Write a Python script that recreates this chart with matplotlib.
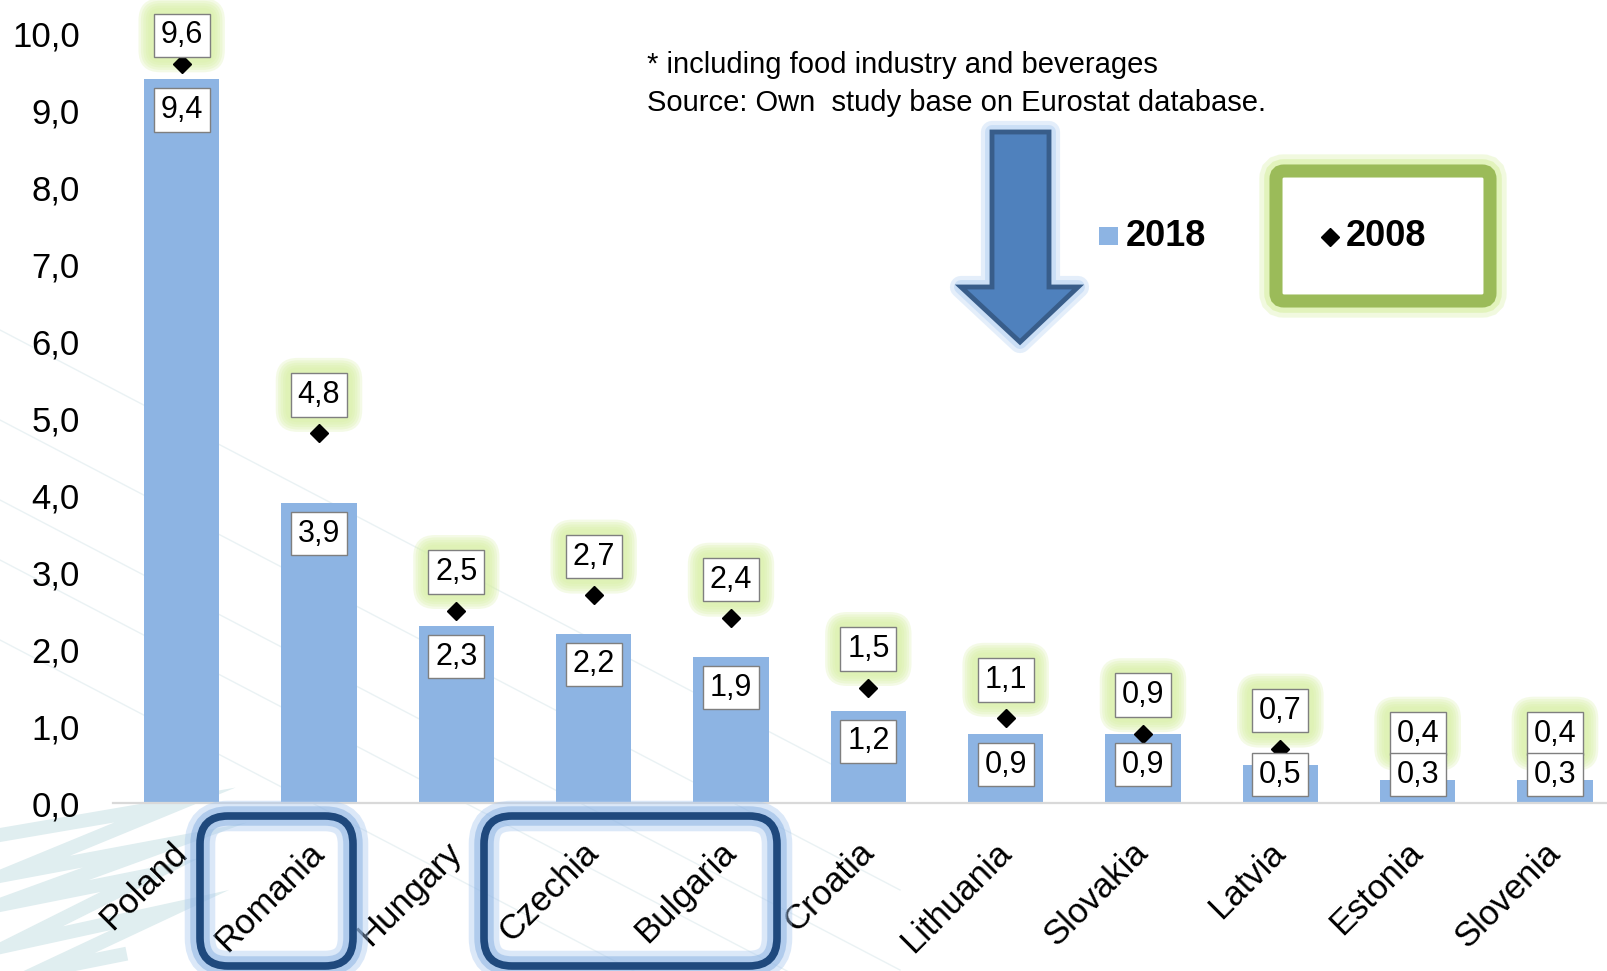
import numpy as np
import matplotlib
matplotlib.use("Agg")
import matplotlib.pyplot as plt
import matplotlib.transforms as mtransforms
from matplotlib.patches import FancyBboxPatch, Polygon, Rectangle
from matplotlib.lines import Line2D

plt.rcParams['font.family'] = ['Liberation Sans', 'DejaVu Sans']

# dane
kraje = ['Poland', 'Romania', 'Hungary', 'Czechia', 'Bulgaria', 'Croatia',
         'Lithuania', 'Slovakia', 'Latvia', 'Estonia', 'Slovenia']
wart_2018 = [9.4, 3.9, 2.3, 2.2, 1.9, 1.2, 0.9, 0.9, 0.5, 0.3, 0.3]
wart_2008 = [9.6, 4.8, 2.5, 2.7, 2.4, 1.5, 1.1, 0.9, 0.7, 0.4, 0.4]
y_ticks = [0, 1, 2, 3, 4, 5, 6, 7, 8, 9, 10]
nota = ['* including food industry and beverages',
        'Source: Own  study base on Eurostat database.']

W, H = 1608, 971
fig = plt.figure(figsize=(W / 100, H / 100), dpi=100)
# wspolrzedne w pikselach liczone od gory
PX = mtransforms.Affine2D().scale(1 / W, -1 / H).translate(0, 1) + fig.transFigure

# tlo - delikatne linie i zygzak
for y0 in [330, 420, 500, 560, 640]:
    fig.add_artist(Line2D([0, 900], [y0, y0 + 470], transform=PX,
                          color='#eaf2f4', lw=1, zorder=0))
zyg_x = [0, 175, 5, 165, 0, 150, 10, 170, 40, 120]
zyg_y = [835, 805, 875, 845, 905, 875, 945, 910, 971, 955]
fig.add_artist(Line2D(zyg_x, zyg_y, transform=PX, color='#e0eef0', lw=10,
                      solid_joinstyle='miter', zorder=0))

ax = fig.add_axes([113 / W, 168 / H, 1 - 113 / W, 770 / H])
ax.patch.set_alpha(0)
x = np.arange(len(kraje))

ax.bar(x, wart_2018, width=0.55, color='#8db4e3', zorder=2)
ax.plot(x, wart_2008, linestyle='none', marker='D', markersize=9,
        color='black', zorder=4)

fmt = lambda v: f"{v:.1f}".replace('.', ',')

for i, (a, b) in enumerate(zip(wart_2018, wart_2008)):
    # etykiety 2008 z zielona poswiata
    yb = min(b + 0.5, 9.97)
    for pad in [0.72, 0.64, 0.56, 0.48, 0.4]:
        ax.text(i, yb, fmt(b), fontsize=22, ha='center', va='center', color='none',
                bbox=dict(boxstyle=f'round,pad={pad}', fc='#d8f0a6', ec='none', alpha=0.28),
                zorder=3, clip_on=False)
    ax.text(i, yb, fmt(b), fontsize=22, ha='center', va='center',
            bbox=dict(boxstyle='square,pad=0.22', fc='white', ec='#7f7f7f', lw=1),
            zorder=5, clip_on=False)
    # etykiety 2018
    ya = max(a - 0.40, 0.37)
    ax.text(i, ya, fmt(a), fontsize=22, ha='center', va='center',
            bbox=dict(boxstyle='square,pad=0.22', fc='white', ec='#7f7f7f', lw=1),
            zorder=6)

ax.set_xlim(-0.5, 10.386)
ax.set_ylim(0, 10)
ax.set_yticks(y_ticks)
ax.set_yticklabels([fmt(t) for t in y_ticks])
ax.set_xticks(x)
ax.set_xticklabels(kraje, rotation=45, ha='right', va='center', rotation_mode='anchor')
ax.tick_params(axis='y', length=0, pad=23.8, labelsize=25)
ax.tick_params(axis='x', length=0, pad=32, labelsize=25)
for s in ['left', 'right', 'top']:
    ax.spines[s].set_visible(False)
ax.spines['bottom'].set_color('#d9d9d9')
ax.spines['bottom'].set_linewidth(1.6)

# przypis
fig.text(647 / W, 1 - 65 / H, nota[0], fontsize=21, va='center')
fig.text(647 / W, 1 - 103 / H, nota[1], fontsize=21, va='center')

# strzalka
strz = [(992, 132), (1049, 132), (1049, 287), (1078, 287), (1020, 342),
        (961, 287), (992, 287)]
for lw, al in [(16, 0.35), (10, 0.5)]:
    fig.add_artist(Polygon(strz, closed=True, transform=PX, fc='none', ec='#b3d1f3',
                           lw=lw, joinstyle='round', alpha=al, zorder=6))
fig.add_artist(Polygon(strz, closed=True, transform=PX, fc='#4f81bd', ec='#385d8a',
                       lw=3.5, joinstyle='miter', zorder=7))

# legenda
fig.add_artist(Rectangle((1099, 227), 19, 18, transform=PX, fc='#8db4e3', ec='none'))
fig.text(1126 / W, 1 - 236 / H, '2018', fontsize=26, fontweight='bold', va='center')
for lw, al in [(24, 0.35), (17, 0.6)]:
    fig.add_artist(FancyBboxPatch((1276, 171), 214, 130, boxstyle='round,pad=0,rounding_size=8',
                                  transform=PX, fc='none', ec='#d8f0a6', lw=lw, alpha=al, zorder=5))
fig.add_artist(FancyBboxPatch((1276, 171), 214, 130, boxstyle='round,pad=0,rounding_size=8',
                              transform=PX, fc='white', ec='#9bbb59', lw=9.4, zorder=6))
fig.add_artist(Line2D([1330], [237], transform=PX, marker='D', markersize=9,
                      color='black', linestyle='none', zorder=7))
fig.text(1346 / W, 1 - 236 / H, '2008', fontsize=26, fontweight='bold', va='center', zorder=7)

# zaokraglone ramki wokol krajow
for x0, x1 in [(200, 353), (484, 777)]:
    for lw, col, al in [(22, '#a7c7ef', 0.4), (14, '#8db4e3', 0.55)]:
        fig.add_artist(FancyBboxPatch((x0, 816), x1 - x0, 150,
                                      boxstyle='round,pad=0,rounding_size=28',
                                      transform=PX, fc='none', ec=col, lw=lw,
                                      alpha=al, zorder=6))
    fig.add_artist(FancyBboxPatch((x0, 816), x1 - x0, 150,
                                  boxstyle='round,pad=0,rounding_size=28',
                                  transform=PX, fc='none', ec='#1f497d', lw=5.5, zorder=7))

fig.savefig('out.png', dpi=100)
